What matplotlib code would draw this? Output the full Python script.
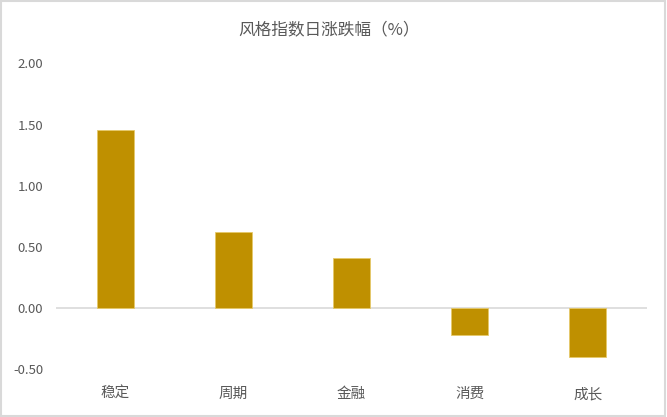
import matplotlib
matplotlib.use("Agg")
import matplotlib.pyplot as plt
from matplotlib.patches import Rectangle

plt.rcParams['font.family'] = ['Noto Sans CJK SC', 'DejaVu Sans']

categories = ['稳定', '周期', '金融', '消费', '成长']
values = [1.454, 0.62, 0.41, -0.22, -0.40]
yticks = [-0.5, 0.0, 0.5, 1.0, 1.5, 2.0]

fig = plt.figure(figsize=(6.67, 4.17), dpi=100)
# plot area matches the reference frame
ax = fig.add_axes([0.0847, 0.1151, 0.885, 0.7329])

x = range(len(categories))
ax.bar(x, values, width=0.31, color='#BF9000', edgecolor='#E6C96A', linewidth=0.6, zorder=3)
ax.axhline(0, color='#D9D9D9', linewidth=1.2, zorder=2)

ax.set_xlim(-0.5, len(categories) - 0.5)
ax.set_ylim(-0.5, 2.0)
ax.set_yticks(yticks)
ax.set_yticklabels(['%.2f' % t for t in yticks])
ax.set_xticks(list(x))
ax.set_xticklabels(categories)
ax.tick_params(axis='both', length=0, colors='#595959')
ax.tick_params(axis='x', pad=13, labelsize=10.5)
ax.tick_params(axis='y', pad=9.5, labelsize=9.5)
for s in ax.spines.values():
    s.set_visible(False)

fig.text(0.493, 0.928, '风格指数日涨跌幅（%）', ha='center', va='center', fontsize=12, color='#595959')

fig.patches.append(Rectangle((0.002, 0.003), 0.995, 0.994, transform=fig.transFigure,
                             fill=False, edgecolor='#D9D9D9', linewidth=1.5))

fig.savefig('out.png', dpi=100)
